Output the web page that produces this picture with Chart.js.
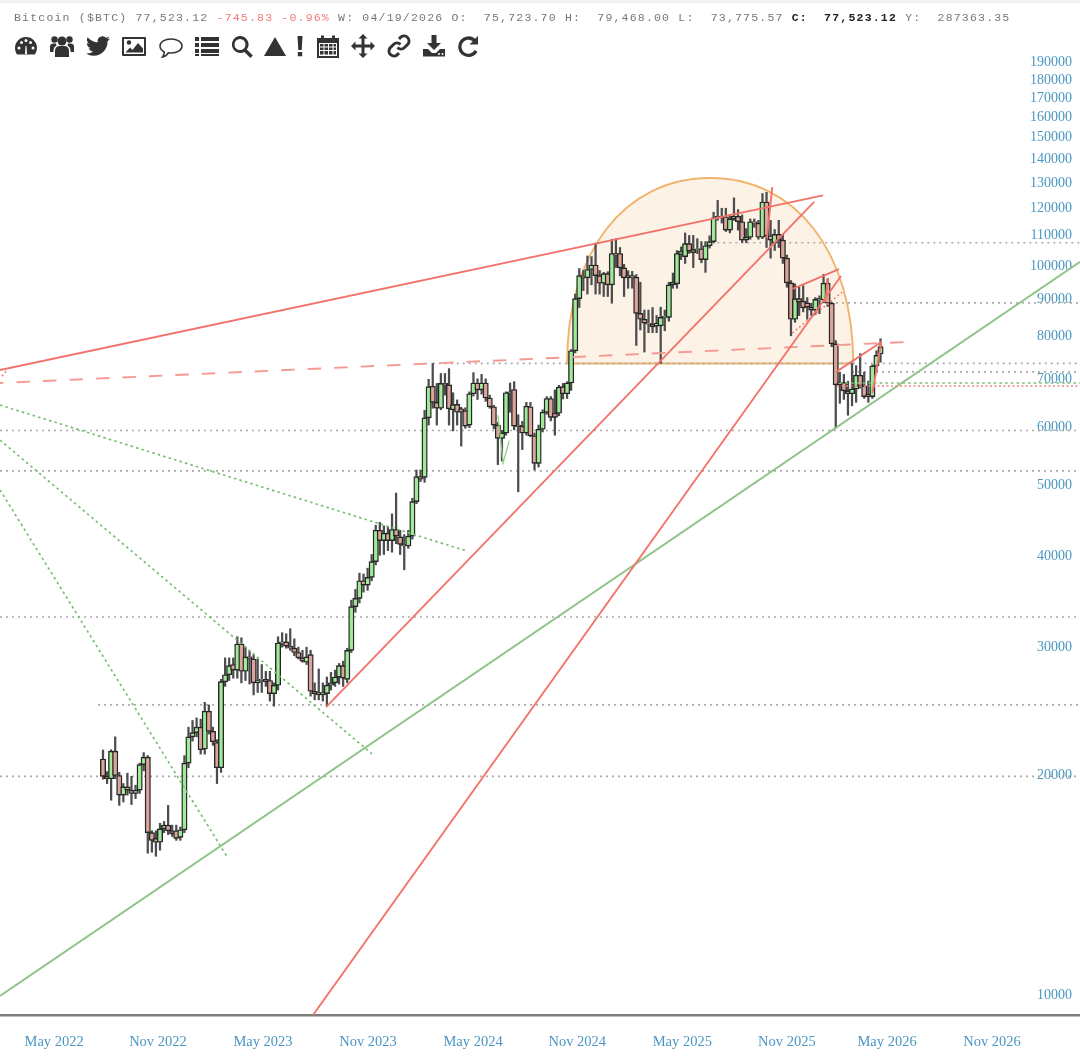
<!DOCTYPE html>
<html>
<head>
<meta charset="utf-8">
<title>Bitcoin ($BTC)</title>
<script src="https://cdn.jsdelivr.net/npm/chart.js@4"></script>
<style>
  html, body { margin: 0; padding: 0; background: #fff; }
  #wrap { position: relative; width: 1080px; height: 1058px; overflow: hidden; filter: blur(0.6px); }
  #band { position: absolute; left: 0; top: 0; width: 1080px; height: 3px; background: #f1f1f1; }
  #quote { position: absolute; left: 14px; top: 11px; font: 11.5px/13px "Liberation Mono", monospace; letter-spacing: 1.2px; white-space: pre; color: #777; }
  #quote .neg { color: #f07a75; }
  #quote b { color: #222; }
  canvas { position: absolute; left: 0; top: 0; }
  .ico { position: absolute; top: 34px; width: 24px; height: 24px; fill: #333; stroke: none; }
</style>
</head>
<body>
<div id="wrap">
  <canvas id="chart" width="1080" height="1058"></canvas>
  <div id="band"></div>
  <div id="quote">Bitcoin ($BTC) 77,523.12 <span class="neg">-745.83 -0.96%</span> W: 04/19/2026 O:  75,723.70 H:  79,468.00 L:  73,775.57 <b>C:  77,523.12</b> Y:  287363.35</div>

  <svg class="ico" style="left:14px" viewBox="0 0 24 24"><path d="M12 3a11 11 0 0 0-11 11c0 2.500.8 4.800 2.200 6.600h17.600A11 11 0 0 0 23 14 11 11 0 0 0 12 3z"/><g fill="#fff"><circle cx="5" cy="14" r="1.500"/><circle cx="7.500" cy="8.500" r="1.500"/><circle cx="12" cy="6.500" r="1.500"/><circle cx="16.500" cy="8.500" r="1.500"/><circle cx="19" cy="14" r="1.500"/><path d="M11 20l.5-8h1l.5 8z"/></g></svg>
  <svg class="ico" style="left:50px" viewBox="0 0 24 24"><circle cx="12" cy="7" r="4.500"/><circle cx="4.500" cy="5.500" r="3.200"/><circle cx="19.500" cy="5.500" r="3.200"/><path d="M5 23v-7a5 5 0 0 1 5-4h4a5 5 0 0 1 5 4v7z"/><path d="M0 18v-6a3 3 0 0 1 3-2.500h3a6 6 0 0 0 .5 2A6 6 0 0 0 3.500 16v2zM24 18v-6a3 3 0 0 0-3-2.500h-3a6 6 0 0 1-.5 2 6 6 0 0 1 3 4.500v2z"/></svg>
  <svg class="ico" style="left:86px" viewBox="0 0 24 24"><path d="M23.953 4.57a10 10 0 01-2.825.775 4.958 4.958 0 002.163-2.723c-.951.555-2.005.959-3.127 1.184a4.92 4.92 0 00-8.384 4.482C7.69 8.095 4.067 6.13 1.64 3.162a4.822 4.822 0 00-.666 2.475c0 1.71.87 3.213 2.188 4.096a4.904 4.904 0 01-2.228-.616v.06a4.923 4.923 0 003.946 4.827 4.996 4.996 0 01-2.212.085 4.936 4.936 0 004.604 3.417 9.867 9.867 0 01-6.102 2.105c-.39 0-.779-.023-1.17-.067a13.995 13.995 0 007.557 2.209c9.053 0 13.998-7.496 13.998-13.985 0-.21 0-.42-.015-.63A9.935 9.935 0 0024 4.59z"/></svg>
  <svg class="ico" style="left:122px" viewBox="0 0 24 24"><path fill-rule="evenodd" d="M1 3h22a1 1 0 0 1 1 1v17a1 1 0 0 1-1 1H1a1 1 0 0 1-1-1V4a1 1 0 0 1 1-1zm1 2v15h20V5z"/><circle cx="7" cy="8.500" r="2.200"/><path d="M3.500 18.500l4.500-5 2.500 2.500 5.500-7 5 5.500v4z"/></svg>
  <svg class="ico" style="left:159px" viewBox="0 0 24 24"><path fill="none" stroke="#333" stroke-width="1.500" d="M12 5c6 0 11 2.800 11 7s-5 7-11 7c-1 0-1.800 0-2.700-.2C8 21 6 22.500 3.500 23c1-1.300 1.800-3 1.800-5C2.800 16.700 1 14.500 1 12c0-4.200 5-7 11-7z"/></svg>
  <svg class="ico" style="left:195px" viewBox="0 0 24 24"><path d="M0 3h4v4H0zM6 3h18v4H6zM0 9h4v4H0zM6 9h18v4H6zM0 15h4v4H0zM6 15h18v4H6zM0 20h4v2H0zM6 20h18v2H6z"/></svg>
  <svg class="ico" style="left:230px" viewBox="0 0 24 24"><path fill-rule="evenodd" d="M10 2a8.500 8.500 0 0 1 6.800 13.600l6 6-2.400 2.400-6-6A8.500 8.500 0 1 1 10 2zm0 3a5.500 5.500 0 1 0 0 11 5.500 5.500 0 0 0 0-11z"/></svg>
  <svg class="ico" style="left:263px" viewBox="0 0 24 24"><path d="M12 3l11 19H1z"/></svg>
  <svg class="ico" style="left:288px" viewBox="0 0 24 24"><path d="M9.500 2h5l-.8 14h-3.400zM9.800 18h4.400v4.300H9.800z"/></svg>
  <svg class="ico" style="left:316px" viewBox="0 0 24 24"><path fill-rule="evenodd" d="M1 4h4V1.500h3V4h8V1.500h3V4h4v20H1zm2 5v13h18V9zM4 10h3.500v2.500H4zM8.500 10H12v2.500H8.500zM13 10h3.500v2.500H13zM17.500 10H20v2.500h-2.500zM4 13.500h3.500V16H4zM8.500 13.500H12V16H8.500zM13 13.500h3.500V16H13zM17.500 13.500H20V16h-2.500zM4 17h3.500v3.500H4zM8.500 17H12v3.500H8.500zM13 17h3.500v3.500H13zM17.500 17H20v3.500h-2.500z"/></svg>
  <svg class="ico" style="left:351px" viewBox="0 0 24 24"><path d="M12 0l4.500 4.500h-3v6h6v-3L24 12l-4.500 4.500v-3h-6v6h3L12 24l-4.500-4.500h3v-6h-6v3L0 12l4.500-4.500v3h6v-6h-3z"/></svg>
  <svg class="ico" style="left:387px" viewBox="0 0 24 24"><g fill="none" stroke="#333" stroke-width="3"><path d="M10.500 13.500a5 5 0 0 0 7 0l3.500-3.500a5 5 0 0 0-7-7l-2 2"/><path d="M13.500 10.500a5 5 0 0 0-7 0L3 14a5 5 0 0 0 7 7l2-2"/></g></svg>
  <svg class="ico" style="left:422px" viewBox="0 0 24 24"><path d="M9.500 1h5v8h4.500l-7 7-7-7h4.500z"/><path fill-rule="evenodd" d="M1 15h5l4 4h4l4-4h5v7.500H1zm16 4a1 1 0 1 0 0 2 1 1 0 0 0 0-2zm3.500 0a1 1 0 1 0 0 2 1 1 0 0 0 0-2z"/></svg>
  <svg class="ico" style="left:456px" viewBox="0 0 24 24"><path d="M22 2v8.500h-8.500l3.300-3.300A7 7 0 1 0 18.600 16l2.900 1.700A10.300 10.300 0 1 1 19.200 4.800z"/></svg>
</div>

<script>
// weekly candles, oldest first, last one is the week of 04/19/2026
const opens = [
  21070,19950,19800,21600,20000,18800,19300,19100,18900,19100,
  20700,21200,16700,16400,16200,16900,17100,16800,16800,16450,
  16850,20800,22600,22900,23300,21750,24500,23000,22200,20500,
  26900,27500,28400,27900,30300,27800,29100,28900,26800,27000,
  27100,27000,25900,26600,30400,30500,30100,29900,29500,29000,
  28600,29300,26100,26000,25800,25900,26600,26800,27300,28300,
  27100,29700,34100,35000,37000,36500,37400,39300,43400,42000,
  43000,42000,43500,42500,41500,41300,42600,47500,51400,51300,
  61900,68400,65000,63800,69000,68700,63500,64600,63700,63300,
  60500,66800,69100,67600,69100,65900,64100,60500,58000,59000,
  67000,67700,60500,60300,59000,64100,58500,53600,59700,63000,
  65800,62800,62800,68300,66800,69100,76500,90200,96900,96300,
  98900,100300,97000,94700,97600,94200,104000,104000,99400,96300,
  97000,96500,86100,84500,83500,83200,82700,82800,85000,85000,
  94200,94500,103700,103000,107300,104300,105300,105600,102000,106600,
  108000,116400,117000,116800,112000,116000,117000,115000,108500,109500,
  115000,114500,109500,122400,110000,107500,110500,108500,102500,94800,
  84500,90200,89500,89000,87800,87000,90300,89800,94700,88900,
  78200,68700,69200,67400,66800,67800,70800,68500,66700,66200,72900,75723
];
const highs = [
  21680,20250,21700,22600,20200,19500,20150,19950,19400,20800,
  21500,21300,16800,16800,17200,17300,18200,17100,17100,17000,
  21300,23300,23800,24000,23900,25200,25000,23300,22400,27100,
  29000,29000,29000,31000,30900,30000,29600,29300,28900,28400,
  27800,27800,26800,31000,31400,31300,31800,30800,30000,29700,
  30000,29700,26800,28000,26800,27300,27700,27900,28500,28700,
  29900,34800,36000,37900,37800,38500,40200,44100,44500,44000,
  43800,45700,48800,43400,42800,43400,48000,52500,52500,63400,
  69900,73500,69000,71200,71200,72300,67000,65500,64000,63900,
  67200,71400,70000,71000,70000,66500,64400,61000,59500,67200,
  69100,69400,62500,61200,65000,65000,59000,60500,63500,66200,
  66200,67600,68600,69000,69400,76800,91500,99200,98600,103200,
  103000,107500,98600,98000,98200,108800,109000,106000,100500,98500,
  98300,97300,95000,87000,87000,87700,85500,87800,87000,95000,
  97800,105000,106200,111000,110100,110100,109000,108000,108000,110000,
  118500,123000,120000,120000,117500,124000,119500,117500,112500,116000,
  116000,115500,125700,126200,115500,112200,115500,110500,103500,95500,
  94500,93500,94000,90500,88900,90500,91000,97400,96000,89200,
  79000,71500,71000,69500,73500,73000,75800,71500,69500,73200,76500,79468
];
const lows = [
  19770,19500,18500,19800,18200,18400,18800,18250,18600,18900,
  20300,15650,15700,15500,15800,16700,16600,16500,16300,16300,
  16700,20500,22300,22600,21400,21400,22800,22000,19500,20200,
  26500,27000,27200,27200,26800,27000,26700,25800,26000,26000,
  26500,25300,24900,26200,30000,29900,29700,29200,28900,28600,
  28400,25700,25400,25400,25300,24900,26200,26500,26700,26500,
  26800,29500,33500,34500,35700,35900,37000,38900,40100,40200,
  40700,40500,41600,40200,38300,41000,42200,47200,50600,50500,
  60500,63800,60500,63500,66500,60500,59400,60500,56600,59900,
  60000,66300,65600,66700,65200,63800,59800,53400,54000,58600,
  63000,59600,49000,56000,58600,58300,52500,53000,59200,62600,
  61300,58600,62300,65700,65800,67500,76000,87700,92500,91500,
  94200,91500,91500,90800,90800,88900,99500,96900,90800,93200,
  93200,77800,81700,76200,81000,81000,81000,73500,81500,84000,
  93200,93200,102000,100800,104000,99500,104000,101000,98000,105800,
  107500,115500,114500,111500,111000,115500,112000,107700,107600,108800,
  113000,108800,109000,106000,102500,105000,106000,100800,93500,80200,
  83700,85500,86500,84500,85500,85800,86000,89000,88000,77500,
  59900,64800,65600,62400,64300,65000,68000,65800,65000,65800,71500,73775
];
const closes = [
  19950,19800,21600,20000,18800,19300,19100,18900,19100,20700,
  21200,16700,16300,16200,16900,17100,16800,16650,16400,16850,
  20800,22600,22900,23300,21700,24500,23000,22250,20500,26900,
  27500,28300,27900,30300,27800,29100,28900,26800,27000,27100,
  26900,25900,26600,30400,30500,30100,29900,29500,29000,28700,
  29100,26100,25900,25800,26000,26600,26800,27300,28300,27200,
  29700,34100,35000,37000,36500,37400,39300,43400,42000,43000,
  42000,43500,42600,41500,41300,42600,47500,51400,51000,61900,
  68300,65000,63800,69000,68700,63700,64500,63000,63000,60300,
  66800,69100,67600,69100,65900,64100,60500,58000,59000,67000,
  67200,60300,60200,59000,64200,58500,53600,59700,63000,65800,
  62000,62000,68200,66800,69100,76500,90200,97000,96300,98900,
  100300,97000,94700,97600,94200,104000,103500,99400,96300,97000,
  96500,86100,84500,83500,83200,82500,83500,85000,85300,94200,
  95000,104000,104800,107300,104800,105300,105600,102000,106600,108000,
  116400,117000,116500,112000,116000,117000,115000,108500,109500,115000,
  114500,109500,122400,110000,108500,110500,108500,102500,94800,84500,
  90200,89200,87600,87800,87000,90000,89800,94700,88900,78200,
  68700,69200,67400,66800,67800,70800,68500,66200,66200,72900,75400,77523
];

// axis labels, x positions are weeks counted from the first candle
const yTicks = [10000,20000,30000,40000,50000,60000,70000,80000,90000,100000,110000,120000,130000,140000,150000,160000,170000,180000,190000];
const xTickWeeks = [-12,13.5,39.3,65.1,90.9,116.5,142.3,168,192.6,218.4];
const xTickLabels = ["May 2022","Nov 2022","May 2023","Nov 2023","May 2024","Nov 2024","May 2025","Nov 2025","May 2026","Nov 2026"];

const xMin = -25.3, xMax = 240;
const yMin = 9388, yMax = 194700;

// drawn trend lines as [week, price]
const redLines = [
  [[-25.3,72000],[176.9,125000]],
  [[54.8,24830],[174.7,122400]],
  [[51.6,9388],[181.3,96900]],
  [[169.4,93000],[180.8,99000]],
  [[163.1,109200],[164.4,128300]],
  [[177.4,89250],[178.1,96300]],
  [[180.1,71560],[191.2,78660]],
  [[189,66950],[191.2,78660]]
];
const redDashed = [[-25.3,69100],[197.5,78660]];
const redDotted = [
  [[169.3,80900],[181.6,92100]],
  [[180.3,68450],[240,68450]],
  [[-24.8,70600],[-23.6,72000]]
];
const greenLine = [[-25.3,9970],[240,101300]];
const greenThin = [[97,62400],[98.3,53700],[99.8,57600]];
const greenDotted = [
  [[-25.3,64450],[89.4,40640]],
  [[-25.3,57700],[66.1,21410]],
  [[-25.3,49300],[30.7,15410]],
  [[181,69100],[240,69100]]
];

// grey price levels
const levelPrices = [107600,88970,73500,71560,59470,52350,33000,25000,19950];
const levelStarts = [150.9,178.6,81,184,-25.3,-25.3,-25.3,-1.2,-25.3];

// the orange dome
const domeWeeks = [114,184.3];
const domePrices = [73500,132000];

function lineSet(points, color, width, dash, order, dashOffset) {
  return {
    type: "line",
    data: points.map((p) => ({ x: p[0], y: p[1] })),
    borderColor: color,
    borderWidth: width,
    borderDash: dash,
    borderDashOffset: dashOffset || 0,
    pointRadius: 0,
    tension: 0,
    order: order,
  };
}

const upColor = "#9fea99";
const downColor = "#dba59c";

const wicks = {
  type: "bar",
  data: highs.map((h, i) => ({ x: i, y: [lows[i], h] })),
  backgroundColor: "#4d4d4d",
  barThickness: 1.6,
  grouped: false,
  order: 4,
};
const bodies = {
  type: "bar",
  data: opens.map((o, i) => ({ x: i, y: [o, closes[i]] })),
  backgroundColor: opens.map((o, i) => (closes[i] >= o ? upColor : downColor)),
  borderColor: "#262626",
  borderWidth: 1.4,
  borderSkipped: false,
  barThickness: 5.4,
  grouped: false,
  order: 3,
};

const datasets = [wicks, bodies];
levelPrices.forEach((p, i) => {
  datasets.push(lineSet([[levelStarts[i], p], [xMax, p]], "#aaaaaa", 1.7, [2, 4], 6));
});
redLines.forEach((l) => datasets.push(lineSet(l, "#f2736c", 1.9, [], 1)));
datasets.push(lineSet(redDashed, "#f59a93", 1.9, [13.5, 13], 1, 10));
redDotted.forEach((l) => datasets.push(lineSet(l, "#f2837c", 1.6, [2, 2.5], 1)));
datasets.push(lineSet(greenLine, "#8dc487", 1.9, [], 1));
datasets.push(lineSet(greenThin, "#8fd08a", 1.3, [], 1));
greenDotted.forEach((l) => datasets.push(lineSet(l, "#78bf72", 1.7, [2.5, 3.2], 1)));

// half dome sits under the candles
const domePlugin = {
  id: "dome",
  beforeDatasetsDraw(chart) {
    const { ctx, scales } = chart;
    const left = scales.x.getPixelForValue(domeWeeks[0]);
    const right = scales.x.getPixelForValue(domeWeeks[1]);
    const base = scales.y.getPixelForValue(domePrices[0]);
    const top = scales.y.getPixelForValue(domePrices[1]);
    const mid = (left + right) / 2;
    const k = 0.6;
    ctx.save();
    ctx.beginPath();
    ctx.moveTo(left, base);
    ctx.bezierCurveTo(left, base - k * (base - top), mid - k * (mid - left), top, mid, top);
    ctx.bezierCurveTo(mid + k * (mid - left), top, right, base - k * (base - top), right, base);
    ctx.closePath();
    ctx.fillStyle = "rgba(243,190,130,0.2)";
    ctx.fill();
    ctx.strokeStyle = "#efb46e";
    ctx.lineWidth = 1.9;
    ctx.stroke();
    ctx.restore();
  },
};

new Chart(document.getElementById("chart"), {
  type: "bar",
  data: { datasets: datasets },
  plugins: [domePlugin],
  options: {
    responsive: false,
    animation: false,
    events: [],
    layout: { padding: { top: 55, left: 0, right: 0, bottom: 0 } },
    plugins: { legend: { display: false }, tooltip: { enabled: false } },
    scales: {
      x: {
        type: "linear",
        offset: false,
        min: xMin,
        max: xMax,
        grid: { display: false },
        border: { color: "#7d7d7d", width: 2.5 },
        afterBuildTicks: (scale) => {
          scale.ticks = xTickWeeks.map((w) => ({ value: w }));
        },
        afterFit: (scale) => {
          scale.height = 43;
        },
        ticks: {
          autoSkip: false,
          maxRotation: 0,
          padding: 10,
          color: "#4b97c2",
          font: { family: "Liberation Serif", size: 14.5 },
          callback: (v, i) => xTickLabels[i],
        },
      },
      y: {
        type: "logarithmic",
        position: "right",
        min: yMin,
        max: yMax,
        grid: { display: false },
        border: { display: false },
        afterBuildTicks: (scale) => {
          scale.ticks = yTicks.map((v) => ({ value: v }));
        },
        afterFit: (scale) => {
          scale.width = 0;
        },
        ticks: {
          mirror: true,
          autoSkip: false,
          padding: -8,
          color: "#4b97c2",
          font: { family: "Liberation Serif", size: 14 },
          callback: (v) => String(v),
        },
      },
    },
  },
});
</script>
</body>
</html>
